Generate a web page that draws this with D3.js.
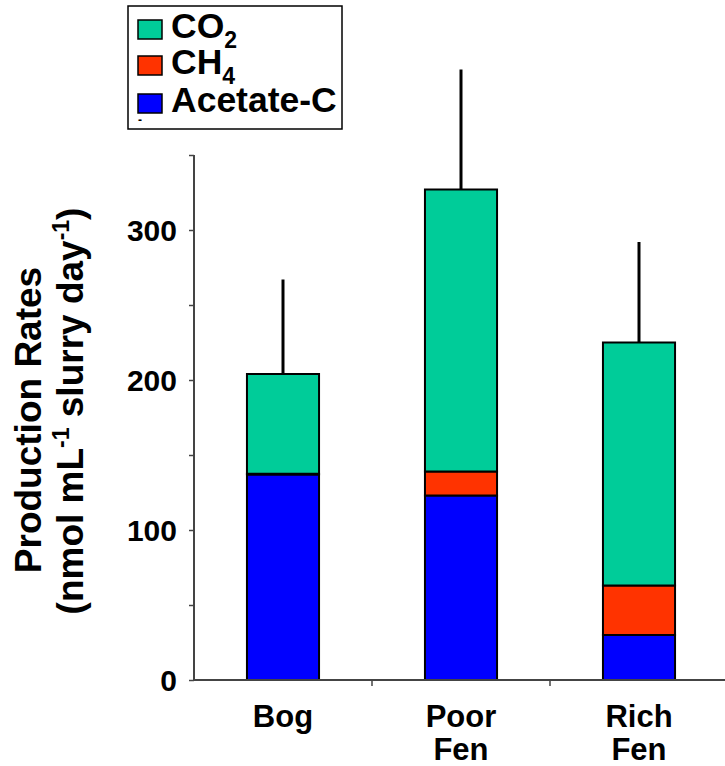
<!DOCTYPE html>
<html>
<head>
<meta charset="utf-8">
<script src="https://cdn.jsdelivr.net/npm/d3@7"></script>
<style>
  html, body { margin: 0; padding: 0; background: #fff; }
  svg { display: block; font-family: "Liberation Sans", Arial, sans-serif; font-weight: bold; }
</style>
</head>
<body>
<svg id="chart" width="725" height="766"></svg>
<script>
// Sites and their production components (nmol mL-1 slurry day-1)
const sites = ["Bog", "Poor Fen", "Rich Fen"];
const acetate = [137, 123, 30];
const ch4 = [0.5, 16, 33];
const co2 = [66.5, 188, 162];
const errorUp = [63, 80, 67];
const yTicks = [0, 100, 200, 300];

const keys = ["acetate", "ch4", "co2"];
const colors = { co2: "#00CC99", ch4: "#FF3300", acetate: "#0000FF" };

const rows = sites.map((s, i) => ({ site: s, acetate: acetate[i], ch4: ch4[i], co2: co2[i], err: errorUp[i] }));

const svg = d3.select("#chart");
const x0 = 194, x1 = 728, yBase = 680;

const x = d3.scaleBand().domain(sites).range([x0, x1]).paddingInner(0).paddingOuter(0);
const y = d3.scaleLinear().domain([0, 350]).range([yBase, 155]);

const stacked = d3.stack().keys(keys)(rows);
const barW = x.bandwidth() * 0.405;

// stacked bars
svg.append("g").selectAll("g").data(stacked).join("g")
  .attr("fill", d => colors[d.key])
  .selectAll("rect").data(d => d).join("rect")
  .attr("x", d => x(d.data.site) + (x.bandwidth() - barW) / 2)
  .attr("width", barW)
  .attr("y", d => y(d[1]))
  .attr("height", d => y(d[0]) - y(d[1]))
  .attr("stroke", "#000")
  .attr("stroke-width", 2);

// upper error bars
svg.append("g").selectAll("line").data(rows).join("line")
  .attr("x1", d => x(d.site) + x.bandwidth() / 2)
  .attr("x2", d => x(d.site) + x.bandwidth() / 2)
  .attr("y1", d => y(d.acetate + d.ch4 + d.co2))
  .attr("y2", d => y(d.acetate + d.ch4 + d.co2 + d.err))
  .attr("stroke", "#000")
  .attr("stroke-width", 3);

// y axis
const yAxis = svg.append("g").attr("transform", `translate(${x0},0)`)
  .call(d3.axisLeft(y).tickValues(d3.range(0, 351, 50)).tickSize(5).tickFormat(""));
yAxis.select(".domain").attr("stroke", "#444").attr("stroke-width", 2).attr("d", `M0,${y(350)}V${yBase}`);
yAxis.selectAll(".tick line").attr("stroke", "#444").attr("stroke-width", 1.5);

svg.append("g").selectAll("text").data(yTicks).join("text")
  .attr("x", 177).attr("y", d => y(d) + 10.5)
  .attr("text-anchor", "end")
  .attr("font-size", 30)
  .text(d => d);

// x axis
const xAxis = svg.append("g").attr("transform", `translate(0,${yBase})`);
xAxis.append("line").attr("x1", x0).attr("x2", 725).attr("stroke", "#444").attr("stroke-width", 2);
xAxis.selectAll("line.t").data(sites.slice(1)).join("line").attr("class", "t")
  .attr("x1", d => x(d)).attr("x2", d => x(d)).attr("y1", 0).attr("y2", 6)
  .attr("stroke", "#444").attr("stroke-width", 1.5);

const xl = svg.append("g").selectAll("text").data(sites).join("text")
  .attr("x", d => x(d) + x.bandwidth() / 2)
  .attr("y", 727)
  .attr("text-anchor", "middle")
  .attr("font-size", 31);
xl.each(function (d) {
  const words = d.split(" ");
  const t = d3.select(this);
  words.forEach((w, i) => t.append("tspan").attr("x", x(d) + x.bandwidth() / 2).attr("dy", i === 0 ? 0 : 33).text(w));
});

// y title
const yt = svg.append("text").attr("transform", "translate(0,420) rotate(-90)").attr("text-anchor", "middle").attr("font-size", 37);
yt.append("tspan").attr("x", 0).attr("y", 41).text("Production Rates");
const l2 = svg.append("text").attr("transform", "translate(0,411) rotate(-90)").attr("text-anchor", "middle").attr("font-size", 37);
l2.append("tspan").attr("y", 83).text("(nmol mL");
l2.append("tspan").attr("font-size", 23).attr("dy", -14).text("-1");
l2.append("tspan").attr("dy", 14).text(" slurry day");
l2.append("tspan").attr("font-size", 23).attr("dy", -14).text("-1");
l2.append("tspan").attr("dy", 14).text(")");

// legend
const lg = svg.append("g");
lg.append("rect").attr("x", 128).attr("y", 6).attr("width", 214).attr("height", 123)
  .attr("fill", "#fff").attr("stroke", "#000").attr("stroke-width", 1.5);
const legendItems = [
  { key: "co2", base: "CO", sub: "2", y: 38 },
  { key: "ch4", base: "CH", sub: "4", y: 74 },
  { key: "acetate", base: "Acetate-C", sub: "", y: 112 }
];
legendItems.forEach(it => {
  lg.append("rect").attr("x", 138).attr("y", it.y - 18).attr("width", 24).attr("height", 19)
    .attr("fill", colors[it.key]).attr("stroke", "#000").attr("stroke-width", 1.5);
  const t = lg.append("text").attr("x", 171).attr("y", it.y).attr("font-size", 35.5).text(it.base);
  if (it.sub) t.append("tspan").attr("font-size", 23).attr("dy", 10).text(it.sub);
});
lg.append("text").attr("x", 138).attr("y", 124).attr("font-size", 12).text("-");
</script>
</body>
</html>
